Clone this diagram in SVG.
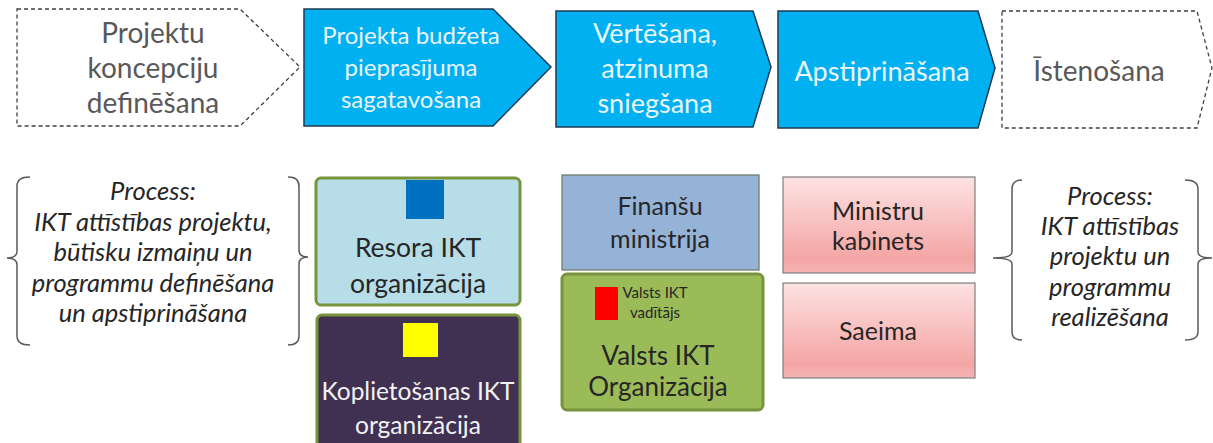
<svg xmlns="http://www.w3.org/2000/svg" width="1213" height="443" viewBox="0 0 1213 443">
<style>
text{font-family:Lato,"Liberation Sans",sans-serif;text-anchor:middle}
.dash{fill:#fff;stroke:#404040;stroke-width:1.3;stroke-dasharray:4 3}
.blue{fill:#00b0f0;stroke:#1f3a52;stroke-width:1.5}
.gt{fill:#595959;font-size:28px}
.wt{fill:#eaf6fb}
.it{font-style:italic;fill:#262626;font-size:25.5px}
.br{fill:none;stroke:#595959;stroke-width:1.5}
.dk{fill:#262626}
.grn{stroke:#77933c;stroke-width:3}
.pink{fill:url(#pg);stroke:#7f7f7f;stroke-width:1.2}
</style>
<defs>
<linearGradient id="pg" x1="0" y1="0" x2="0" y2="1">
<stop offset="0" stop-color="#fde2e2"/>
<stop offset="0.85" stop-color="#f4a5a5"/>
<stop offset="1" stop-color="#f6b3b3"/>
</linearGradient>
</defs>

<g id="step1">
<path class="dash" d="M17,9 L240,9 L300,67 L240,126 L17,126 Z"/>
<text class="gt" x="153" y="43">Projektu</text>
<text class="gt" x="153" y="78">koncepciju</text>
<text class="gt" x="153" y="113">definēšana</text>
</g>
<g id="step2">
<path class="blue" d="M304,9 L493,9 L551,67 L493,126 L304,126 Z"/>
<text class="wt" x="411" y="44" font-size="24">Projekta budžeta</text>
<text class="wt" x="411" y="76" font-size="24">pieprasījuma</text>
<text class="wt" x="411" y="108" font-size="24">sagatavošana</text>
</g>
<g id="step3">
<path class="blue" d="M556,11 L753,11 L771,67 L753,127 L556,127 Z"/>
<text class="wt" x="655" y="43" font-size="27">Vērtēšana,</text>
<text class="wt" x="655" y="78" font-size="27">atzinuma</text>
<text class="wt" x="655" y="113" font-size="27">sniegšana</text>
</g>
<g id="step4">
<path class="blue" d="M778,11 L978,11 L995,68 L978,128 L778,128 Z"/>
<text class="wt" x="882" y="81" font-size="27">Apstiprināšana</text>
</g>
<g id="step5">
<path class="dash" d="M1002,11 L1197,11 L1212,68 L1197,128 L1002,128 Z"/>
<text class="gt" x="1099" y="81" font-size="27.5">Īstenošana</text>
</g>

<g id="process-left">
<path class="br" d="M30,177 Q17,177 17,186 L17,251 Q17,258 7,258 Q17,258 17,265 L17,336 Q17,345 30,345"/>
<path class="br" d="M288,177 Q299,177 299,186 L299,250 Q299,257 308,257 Q299,257 299,264 L299,336 Q299,345 288,345"/>
<text class="it" x="153" y="200">Process:</text>
<text class="it" x="153" y="231">IKT attīstības projektu,</text>
<text class="it" x="153" y="261">būtisku izmaiņu un</text>
<text class="it" x="153" y="292">programmu definēšana</text>
<text class="it" x="153" y="322">un apstiprināšana</text>
</g>

<g id="resora">
<rect x="316" y="178" width="204" height="127" rx="5" fill="#b7dee8" class="grn"/>
<rect x="406" y="180" width="38" height="39" fill="#0070c0"/>
<text class="dk" x="418" y="257" font-size="26.5">Resora IKT</text>
<text class="dk" x="418" y="293" font-size="26.5">organizācija</text>
</g>
<g id="koplietosanas">
<rect x="317" y="315" width="203" height="140" rx="5" fill="#403152" class="grn"/>
<rect x="403" y="323" width="35" height="34" fill="#ffff00"/>
<text x="418" y="400" font-size="24.5" fill="#f2f2f2">Koplietošanas IKT</text>
<text x="418" y="434" font-size="24.5" fill="#f2f2f2">organizācija</text>
</g>

<g id="finansu">
<rect x="562" y="175" width="197" height="95" fill="#95b3d7" stroke="#6f8066" stroke-width="1.3"/>
<text class="dk" x="660" y="215" font-size="25">Finanšu</text>
<text class="dk" x="660" y="248" font-size="25">ministrija</text>
</g>
<g id="valsts">
<rect x="562" y="274" width="201" height="136" rx="5" fill="#9bbb59" class="grn"/>
<rect x="595" y="287" width="23" height="33" fill="#ff0000"/>
<text class="dk" x="655" y="298" font-size="15">Valsts IKT</text>
<text class="dk" x="655" y="318" font-size="15">vadītājs</text>
<text class="dk" x="658" y="365" font-size="26">Valsts IKT</text>
<text class="dk" x="658" y="396" font-size="26">Organizācija</text>
</g>

<g id="ministru">
<rect class="pink" x="783" y="177" width="192" height="96"/>
<text class="dk" x="878" y="220" font-size="25">Ministru</text>
<text class="dk" x="878" y="250" font-size="25">kabinets</text>
</g>
<g id="saeima">
<rect class="pink" x="783" y="283" width="192" height="95"/>
<text class="dk" x="878" y="340" font-size="25">Saeima</text>
</g>

<g id="process-right">
<path class="br" d="M1022,180 Q1012,180 1012,189 L1012,252 Q1012,258 993,258 Q1012,258 1012,264 L1012,332 Q1012,340 1022,340"/>
<path class="br" d="M1185,180 Q1198,180 1198,189 L1198,252 Q1198,258 1212,258 Q1198,258 1198,264 L1198,332 Q1198,340 1185,340"/>
<text class="it" x="1110" y="205">Process:</text>
<text class="it" x="1110" y="235">IKT attīstības</text>
<text class="it" x="1110" y="265">projektu un</text>
<text class="it" x="1110" y="296">programmu</text>
<text class="it" x="1110" y="326">realizēšana</text>
</g>
<g id="connectors"></g>
</svg>
